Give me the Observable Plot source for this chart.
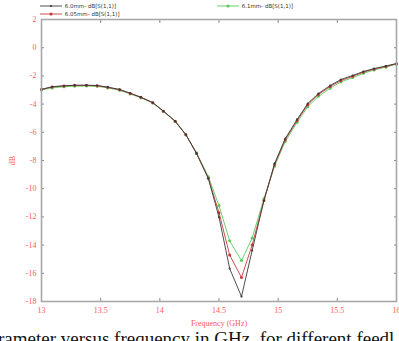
<!DOCTYPE html>
<html>
<head>
<meta charset="utf-8">
<script src="https://cdn.jsdelivr.net/npm/d3@7"></script>
<script src="https://cdn.jsdelivr.net/npm/@observablehq/plot@0.6"></script>
<style>
  html, body { margin: 0; padding: 0; background: #fff; }
  #wrap { position: relative; width: 399px; height: 341px; overflow: hidden; background: #fff; }
  #chart { position: absolute; left: 0; top: 0; }
  .leg { position: absolute; font: 5.5px "DejaVu Sans", sans-serif; color: #333; white-space: nowrap; }
  .leg svg { vertical-align: middle; }
  #caption { position: absolute; left: -2px; top: 328px; font: 19px "Liberation Serif", serif; line-height: 22px; color: #111; white-space: nowrap; }
</style>
</head>
<body>
<div id="wrap">
  <div id="chart"></div>
  <div id="legend"></div>
  <div id="caption"></div>
</div>
<script>
const freq = [13.00,13.09,13.19,13.28,13.38,13.47,13.56,13.66,13.75,13.84,13.94,14.03,14.13,14.22,14.31,14.41,14.50,14.59,14.69,14.78,14.88,14.97,15.06,15.16,15.25,15.34,15.44,15.53,15.63,15.72,15.81,15.91,16.00];
const s11_60 = [-2.96,-2.77,-2.70,-2.66,-2.66,-2.68,-2.80,-2.96,-3.23,-3.51,-3.89,-4.49,-5.21,-6.16,-7.50,-9.28,-12.02,-15.66,-17.65,-14.38,-10.84,-8.21,-6.44,-5.09,-3.96,-3.25,-2.68,-2.26,-1.97,-1.69,-1.48,-1.30,-1.12];
const s11_605 = [-2.95,-2.78,-2.71,-2.67,-2.67,-2.70,-2.81,-2.98,-3.24,-3.52,-3.90,-4.50,-5.22,-6.17,-7.50,-9.25,-11.70,-14.70,-16.30,-14.00,-10.84,-8.28,-6.52,-5.17,-4.04,-3.32,-2.75,-2.33,-2.03,-1.74,-1.52,-1.33,-1.14];
const s11_61 = [-3.00,-2.85,-2.77,-2.73,-2.72,-2.74,-2.85,-3.02,-3.28,-3.55,-3.92,-4.52,-5.24,-6.18,-7.45,-9.15,-11.20,-13.70,-15.10,-13.50,-10.70,-8.40,-6.65,-5.30,-4.18,-3.45,-2.87,-2.43,-2.12,-1.82,-1.58,-1.38,-1.17];
const seriesNames = ["6.0mm- dB[S(1,1)]", "6.05mm- dB[S(1,1)]", "6.1mm- dB[S(1,1)]"];
const seriesColors = ["#3a3a3a", "#c83a3a", "#5cc95c"];
const xTicks = [13, 13.5, 14, 14.5, 15, 15.5, 16];
const yTicks = [2, 0, -2, -4, -6, -8, -10, -12, -14, -16, -18];
const xLabel = "Frequency (GHz)";
const yLabel = "dB";
const captionText = "rameter versus frequency in GHz, for different feedl";

const allSeries = [s11_60, s11_605, s11_61];
const rows = [];
allSeries.forEach((vals, si) => vals.forEach((v, i) => rows.push({f: freq[i], v, s: seriesNames[si], si})));
const drawOrder = [2, 1, 0];

const red = "#ff5a5a";
const tickFont = "Liberation Serif";
const tickFmt = d => String(d);

const marks = [];
for (const si of drawOrder) {
  const d = rows.filter(r => r.si === si);
  marks.push(Plot.line(d, {x: "f", y: "v", stroke: seriesColors[si], strokeWidth: 0.9}));
  marks.push(Plot.dot(d, {x: "f", y: "v", fill: seriesColors[si], r: si === 0 ? 1.1 : 1.5, stroke: "none"}));
}

const chart = Plot.plot({
  width: 399,
  height: 341,
  marginTop: 19,
  marginBottom: 40,
  marginLeft: 41,
  marginRight: 3,
  style: {fontFamily: tickFont, fontSize: "8px", background: "transparent"},
  x: {domain: [13, 16]},
  y: {domain: [-18, 2]},
  marks: [
    Plot.axisX(xTicks, {anchor: "bottom", tickSize: 3, dy: -3, tickFormat: () => "", stroke: "#888", label: null}),
    Plot.axisX(xTicks, {anchor: "top", tickSize: 3, dy: 3, tickFormat: () => "", stroke: "#888", label: null}),
    Plot.axisY(yTicks, {anchor: "left", tickSize: 3, dx: 3, tickFormat: () => "", stroke: "#888", label: null}),
    Plot.axisY(yTicks, {anchor: "right", tickSize: 3, dx: -3, tickFormat: () => "", stroke: "#888", label: null}),
    Plot.axisX(xTicks, {anchor: "bottom", tickSize: 0, tickPadding: 6, tickFormat: tickFmt, fill: red, fontSize: 8,
      label: xLabel, labelAnchor: "center", labelArrow: "none", labelOffset: 24, color: red}),
    Plot.axisY(yTicks, {anchor: "left", tickSize: 0, tickPadding: 5, tickFormat: tickFmt, fill: red, fontSize: 8,
      label: yLabel, labelAnchor: "center", labelArrow: "none", labelOffset: 32, color: red}),
    ...marks,
    Plot.frame({stroke: "#a8a8a8", strokeWidth: 1.6})
  ]
});
document.getElementById("chart").appendChild(chart);

const legendPos = [{left: 39, top: 2}, {left: 39, top: 10}, {left: 216, top: 2}];
const legend = document.getElementById("legend");
seriesNames.forEach((name, si) => {
  const p = legendPos[si];
  const div = document.createElement("div");
  div.className = "leg";
  div.style.left = p.left + "px";
  div.style.top = p.top + "px";
  const w = 24;
  div.innerHTML = `<svg width="${w}" height="8"><line x1="1" x2="${w - 1}" y1="4" y2="4" stroke="${seriesColors[si]}" stroke-width="0.9"/><circle cx="${w / 2}" cy="4" r="${si === 0 ? 1.1 : 1.6}" fill="${seriesColors[si]}"/></svg> ${name}`;
  legend.appendChild(div);
});
document.getElementById("caption").textContent = captionText;
</script>
</body>
</html>
